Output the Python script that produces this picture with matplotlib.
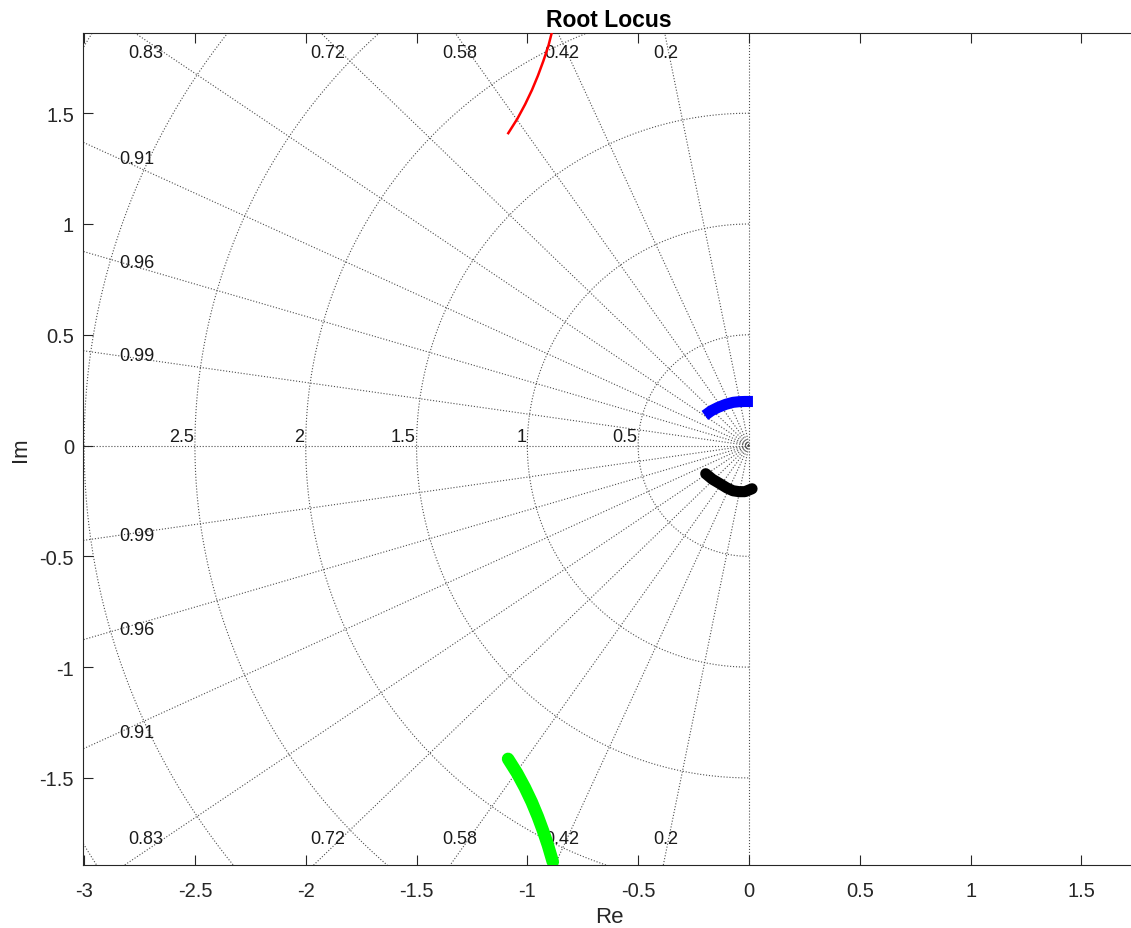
#!/usr/bin/env python3
# root locus with s-plane grid (MATLAB look)

import numpy as np
import matplotlib
matplotlib.use('Agg')
import matplotlib.pyplot as plt

# ----------------------------
# Data
# ----------------------------
zeta_values = [0.2, 0.42, 0.58, 0.72, 0.83, 0.91, 0.96, 0.99]
zeta_top    = [0.83, 0.72, 0.58, 0.42, 0.2]     # labels along top/bottom edge
zeta_side   = [0.91, 0.96, 0.99]                # labels along left edge
wn_values   = [0.5, 1.0, 1.5, 2.0, 2.5, 3.0, 3.5]
wn_labels   = ['0.5', '1', '1.5', '2', '2.5']

# branches of the locus
red_re   = [-1.086, -1.045, -1.010, -0.979, -0.952, -0.928, -0.906, -0.889]
red_im   = [1.410, 1.475, 1.540, 1.605, 1.670, 1.735, 1.800, 1.866]

green_re = [-1.087, -1.046, -1.011, -0.980, -0.953, -0.929, -0.907, -0.885]
green_im = [-1.414, -1.479, -1.544, -1.609, -1.674, -1.739, -1.804, -1.879]

blue_re  = [-0.199, -0.170, -0.140, -0.105, -0.072, -0.045, -0.018, 0.018]
blue_im  = [0.136, 0.157, 0.172, 0.186, 0.195, 0.198, 0.199, 0.199]

black_re = [-0.195, -0.165, -0.131, -0.100, -0.072, -0.045, -0.018, 0.014]
black_im = [-0.127, -0.152, -0.172, -0.191, -0.204, -0.208, -0.208, -0.195]

# ----------------------------
# Figure / axes
# ----------------------------
plt.rcParams['font.family'] = ['Liberation Sans', 'DejaVu Sans']
plt.rcParams['axes.unicode_minus'] = False

fig = plt.figure(figsize=(11.31, 9.29), dpi=100)
ax = fig.add_axes([83 / 1131, 63 / 929, 1052 / 1131, 832 / 929])
ax.set_xlim(-3.005, 1.742)
ax.set_ylim(-1.893, 1.862)

grid_kw = dict(color='0.3', linestyle=':', linewidth=0.8, zorder=1)

# damping ratio lines
rmax = 10
for z in zeta_values:
    th = np.arccos(z)
    ax.plot([0, -rmax * np.cos(th)], [0, rmax * np.sin(th)], **grid_kw)
    ax.plot([0, -rmax * np.cos(th)], [0, -rmax * np.sin(th)], **grid_kw)
ax.plot([-rmax, 0], [0, 0], **grid_kw)
ax.plot([0, 0], [-rmax, rmax], **grid_kw)

# natural frequency arcs
phi = np.linspace(np.pi / 2, 3 * np.pi / 2, 300)
for wn in wn_values:
    ax.plot(wn * np.cos(phi), wn * np.sin(phi), **grid_kw)

lab_kw = dict(fontsize=13, color='#1a1a1a', ha='center', va='center', zorder=2)
for z in zeta_top:
    xl = -1.83 * z / np.sqrt(1 - z ** 2)
    ax.text(xl, 1.774, f'{z:g}', **lab_kw)
    ax.text(xl, -1.774, f'{z:g}', **lab_kw)
for z in zeta_side:
    yl = 2.84 * np.sqrt(1 - z ** 2) / z
    ax.text(-2.76, yl, f'{z:g}', **lab_kw)
    ax.text(-2.76, -yl, f'{z:g}', **lab_kw)
for wn, s in zip(wn_values, wn_labels):
    ax.text(-wn - 0.005, 0.02, s, fontsize=13, color='#1a1a1a',
            ha='right', va='baseline', zorder=2)

# ----------------------------
# Locus branches
# ----------------------------
ax.plot(red_re, red_im, color='#ff0000', linewidth=1.8, zorder=4)
ax.plot(green_re, green_im, color='#00ff00', linewidth=9,
        solid_capstyle='round', solid_joinstyle='round', zorder=4)
ax.plot(blue_re, blue_im, color='#0000ff', linewidth=8,
        solid_capstyle='butt', solid_joinstyle='round', zorder=4)
ax.plot(black_re, black_im, color='#000000', linewidth=8,
        solid_capstyle='round', solid_joinstyle='round', zorder=4)

# ----------------------------
# Axes styling
# ----------------------------
ax.set_xticks([-3, -2.5, -2, -1.5, -1, -0.5, 0, 0.5, 1, 1.5])
ax.set_xticklabels(['-3', '-2.5', '-2', '-1.5', '-1', '-0.5', '0', '0.5', '1', '1.5'])
ax.set_yticks([-1.5, -1, -0.5, 0, 0.5, 1, 1.5])
ax.set_yticklabels(['-1.5', '-1', '-0.5', '0', '0.5', '1', '1.5'])
ax.tick_params(direction='in', length=7, width=0.8, color='#262626',
               labelcolor='#262626', labelsize=14.5, top=True)
ax.tick_params(axis='x', pad=11.5)
ax.tick_params(axis='y', pad=6.5)
for sp in ax.spines.values():
    sp.set_color('#262626')
    sp.set_linewidth(0.8)

ax.set_xlabel('Re', fontsize=16, color='#262626', labelpad=4)
ax.set_ylabel('Im', fontsize=16, color='#262626', labelpad=6)
ax.set_title('Root Locus', fontsize=16.5, fontweight='bold', pad=5)

fig.savefig('out.png', dpi=100)
